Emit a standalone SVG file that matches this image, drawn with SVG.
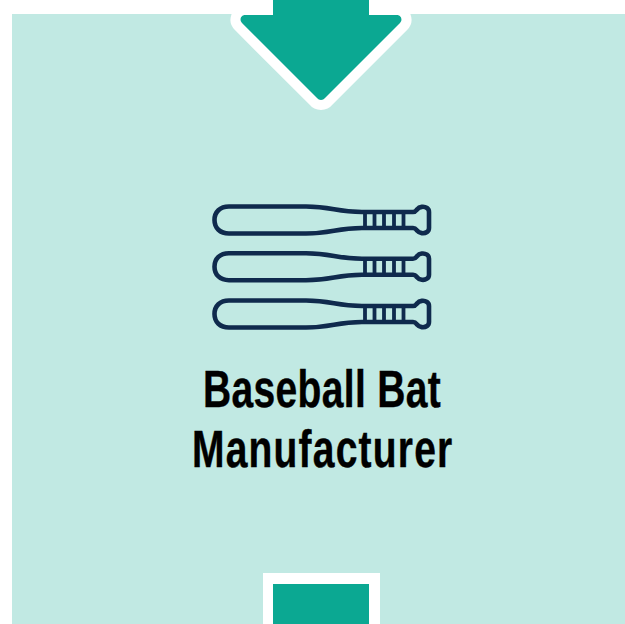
<svg xmlns="http://www.w3.org/2000/svg" width="625" height="624" viewBox="0 0 625 624">
  <style>
    .bat { fill: none; stroke: #0f2a4d; stroke-width: 4.6; stroke-linejoin: round; stroke-linecap: round; }
    .grip { fill: none; stroke: #0f2a4d; stroke-width: 3.8; }
    .teal { fill: #0ba892; }
    .halo { fill: #ffffff; stroke: #ffffff; stroke-width: 20; stroke-linejoin: round; }
    .label { font-family: "Liberation Sans", Arial, sans-serif; font-weight: 700; font-size: 52px; fill: #000000; stroke: #000000; stroke-width: 0.4; }
  </style>
  <defs>
    <path id="head" d="M245 15 H397 C401 15 403 20 400 23 L325 98 C323 100.500 319 100.500 317 98 L242 23 C239 20 241 15 245 15 Z"/>
    <g id="bat-shape">
      <path class="bat" d="M229 206.500 H306 C332 206.500 336 212 362 212 H413 C416 212 416 210.500 417 209.500 C419.500 206.500 424 206 427 208 C428.500 209 429 210.500 429 212 V228 C429 229.500 428.500 231 427 232 C424 234 419.500 233.500 417 230.500 C416 229.500 416 228 413 228 H362 C336 228 332 233.500 306 233.500 H229 C220 233.500 214.500 228 214.500 220 C214.500 212 220 206.500 229 206.500 Z"/>
      <path class="grip" d="M365 212 V228 M374.500 212 V228 M384 212 V228 M394 212 V228 M403.500 212 V228"/>
    </g>
  </defs>
  <rect width="625" height="624" fill="#ffffff"/>
  <rect id="panel" x="12" y="14" width="613" height="610" fill="#c1e9e3"/>
  <g id="connectors">
    <g id="arrow-in">
      <use href="#head" class="halo"/>
      <rect x="231" y="0" width="180" height="14" fill="#ffffff"/>
      <rect class="teal" x="273" y="0" width="96" height="20"/>
      <use href="#head" class="teal"/>
    </g>
    <g id="arrow-out">
      <rect x="263" y="573" width="117" height="51" fill="#ffffff"/>
      <rect class="teal" x="273" y="584" width="96" height="40"/>
    </g>
  </g>
  <g id="node-baseball-bat-manufacturer">
    <use href="#bat-shape"/>
    <use href="#bat-shape" y="46.700"/>
    <use href="#bat-shape" y="94"/>
    <text class="label" transform="translate(203 407) scale(0.75 1)" textLength="317" lengthAdjust="spacing">Baseball Bat</text>
    <text class="label" transform="translate(192 467) scale(0.75 1)" textLength="347" lengthAdjust="spacing">Manufacturer</text>
  </g>
</svg>
